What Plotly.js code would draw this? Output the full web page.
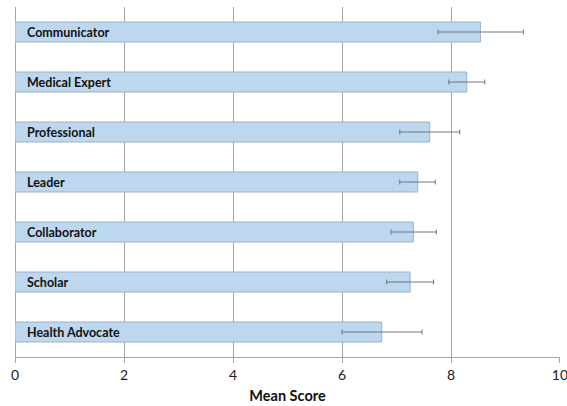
<!DOCTYPE html>
<html>
<head>
<meta charset="utf-8">
<script src="https://cdn.plot.ly/plotly-3.0.1.min.js"></script>
<style>html,body{margin:0;padding:0;background:#fff;}#chart{width:567px;height:406px;}</style>
</head>
<body>
<div id="chart"></div>
<script>
var categories = ["Communicator", "Medical Expert", "Professional", "Leader", "Collaborator", "Scholar", "Health Advocate"];
var meanScores = [8.54, 8.29, 7.61, 7.39, 7.31, 7.25, 6.73];
var errMinus = [0.78, 0.33, 0.55, 0.33, 0.41, 0.43, 0.73];
var errPlus = [0.79, 0.33, 0.55, 0.32, 0.42, 0.43, 0.74];
var xTicks = [0, 2, 4, 6, 8, 10];

var trace = {
  type: "bar",
  orientation: "h",
  x: meanScores,
  y: categories,
  marker: {color: "#BDD7EE", line: {color: "#9DB3C8", width: 1}},
  width: 0.4,
  error_x: {type: "data", symmetric: false, array: errPlus, arrayminus: errMinus, color: "#6B7884", thickness: 1, width: 2.5},
  hoverinfo: "none"
};

var annotations = categories.map(function(c){
  return {x: 0, y: c, xref: "x", yref: "y", text: "<b>" + c + "</b>", showarrow: false,
          xanchor: "left", xshift: 10, font: {family: "Lato, 'Open Sans', sans-serif", size: 12.5, color: "#111"}};
});

var layout = {
  width: 567, height: 406,
  margin: {l: 15, r: 7, t: 7, b: 49},
  paper_bgcolor: "#fff", plot_bgcolor: "#fff",
  showlegend: false,
  xaxis: {
    range: [0, 10.0001], tickvals: xTicks, ticktext: xTicks.map(String),
    showgrid: true, gridcolor: "#A6A6A6", gridwidth: 1,
    zeroline: true, zerolinecolor: "#A6A6A6", zerolinewidth: 1,
    showline: true, linecolor: "#A6A6A6", linewidth: 1,
    ticks: "outside", ticklen: 5, tickcolor: "#A6A6A6",
    ticklabeloverflow: "allow",
    tickfont: {family: "Lato, 'Open Sans', sans-serif", size: 14, color: "#222"},
    title: {text: "<b>Mean Score</b>", font: {family: "Lato, 'Open Sans', sans-serif", size: 14.5, color: "#111"}, standoff: 9},
    fixedrange: true
  },
  yaxis: {
    autorange: "reversed", showticklabels: false, showgrid: false, zeroline: false, showline: false, ticks: "",
    fixedrange: true
  },
  annotations: annotations
};

Plotly.newPlot("chart", [trace], layout, {displayModeBar: false, staticPlot: true});
</script>
</body>
</html>
